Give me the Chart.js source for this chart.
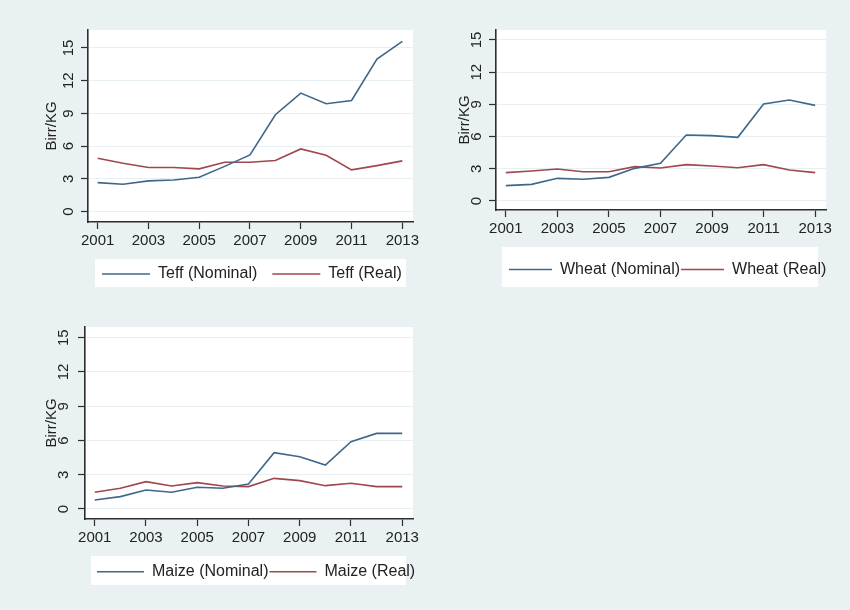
<!DOCTYPE html>
<html>
<head>
<meta charset="utf-8">
<title>Teff, Wheat and Maize prices</title>
<script src="https://cdn.jsdelivr.net/npm/chart.js@4.4.1/dist/chart.umd.min.js"></script>
<style>
  html, body { margin: 0; padding: 0; background: #e9f1f3; }
  body { width: 850px; height: 610px; position: relative; overflow: hidden; }
  canvas { position: absolute; }
</style>
</head>
<body>
<canvas id="teffChart" width="430" height="300" style="left:0;top:0"></canvas>
<canvas id="wheatChart" width="420" height="300" style="left:430px;top:0"></canvas>
<canvas id="maizeChart" width="430" height="310" style="left:0;top:300px"></canvas>
<script>
// Data (Birr per KG)
const years = [2001, 2002, 2003, 2004, 2005, 2006, 2007, 2008, 2009, 2010, 2011, 2012, 2013];
const yearTicks = [2001, 2003, 2005, 2007, 2009, 2011, 2013];
const priceTicks = [0, 3, 6, 9, 12, 15];

const teffNominal = [2.66, 2.51, 2.82, 2.9, 3.15, 4.15, 5.2, 8.88, 10.87, 9.89, 10.19, 13.99, 15.6];
const teffReal = [4.9, 4.44, 4.04, 4.04, 3.92, 4.53, 4.53, 4.68, 5.75, 5.17, 3.83, 4.22, 4.65];

const wheatNominal = [1.43, 1.55, 2.11, 2.02, 2.2, 3.04, 3.51, 6.15, 6.09, 5.93, 9.04, 9.41, 8.91];
const wheatReal = [2.64, 2.8, 2.98, 2.73, 2.73, 3.2, 3.07, 3.39, 3.26, 3.1, 3.39, 2.89, 2.64];

const maizeNominal = [0.79, 1.08, 1.66, 1.46, 1.9, 1.81, 2.19, 4.93, 4.58, 3.85, 5.89, 6.62, 6.62];
const maizeReal = [1.46, 1.81, 2.39, 2.01, 2.31, 2.01, 1.96, 2.68, 2.48, 2.04, 2.25, 1.96, 1.96];

const seriesLabels = {
  teff: ['Teff (Nominal)', 'Teff (Real)'],
  wheat: ['Wheat (Nominal)', 'Wheat (Real)'],
  maize: ['Maize (Nominal)', 'Maize (Real)']
};

const NAVY = '#3f6789';
const MAROON = '#a0474e';
const AXIS = '#2e2e2e';
const GRID = '#e7eff2';

Chart.defaults.font.family = "'Liberation Sans', Arial, sans-serif";
Chart.defaults.color = '#222';

// white plot region + white legend box, and legend row placement
const panelBackground = {
  id: 'panelBackground',
  afterLayout(chart, args, opts) {
    const lg = chart.legend;
    const w = lg.right - lg.left;
    lg.left = opts.legendX - lg.options.labels.padding;
    lg.right = lg.left + w;
  },
  beforeDraw(chart, args, opts) {
    const { ctx, chartArea } = chart;
    const b = opts.legendBox;
    ctx.save();
    ctx.fillStyle = '#fff';
    ctx.fillRect(chartArea.left, chartArea.top, chartArea.right - chartArea.left, chartArea.bottom - chartArea.top);
    ctx.fillRect(b[0], b[1], b[2], b[3]);
    ctx.restore();
  }
};

function toPoints(values) {
  return years.map((yr, i) => ({ x: yr, y: values[i] }));
}

function drawPanel(id, labels, nominal, real, p) {
  new Chart(document.getElementById(id), {
    type: 'line',
    data: {
      datasets: [
        { label: labels[0], data: toPoints(nominal), borderColor: NAVY, backgroundColor: NAVY, borderWidth: 1.6 },
        { label: labels[1], data: toPoints(real), borderColor: MAROON, backgroundColor: MAROON, borderWidth: 1.6 }
      ]
    },
    options: {
      responsive: false,
      animation: false,
      events: [],
      elements: {
        line: { tension: 0, fill: false },
        point: { radius: 0 }
      },
      layout: { padding: p.padding },
      scales: {
        x: {
          type: 'linear',
          min: 2000.62,
          max: 2013.42,
          afterBuildTicks: (axis) => { axis.ticks = yearTicks.map(v => ({ value: v })); },
          afterFit: (axis) => { axis.height = p.xHeight; },
          ticks: {
            autoSkip: false,
            maxRotation: 0,
            padding: 3,
            font: { size: 15 },
            callback: (v) => String(v)
          },
          grid: { drawOnChartArea: false, tickLength: 7, tickColor: AXIS, tickWidth: 1.2 },
          border: { color: AXIS, width: 1.6 }
        },
        y: {
          min: p.yMin,
          max: p.yMax,
          afterBuildTicks: (axis) => { axis.ticks = priceTicks.map(v => ({ value: v })); },
          afterFit: (axis) => { axis.width = p.yWidth; },
          ticks: {
            autoSkip: false,
            minRotation: 90,
            maxRotation: 90,
            crossAlign: 'center',
            padding: p.tickPad,
            font: { size: 15 }
          },
          grid: { color: GRID, lineWidth: 1, tickLength: 7, tickColor: AXIS, tickWidth: 1.2 },
          border: { color: AXIS, width: 1.6 },
          title: {
            display: true,
            text: 'Birr/KG',
            font: { size: 15 },
            padding: { top: p.titlePad, bottom: 0 }
          }
        }
      },
      plugins: {
        tooltip: { enabled: false },
        legend: {
          position: 'bottom',
          align: 'start',
          labels: {
            usePointStyle: true,
            pointStyle: 'line',
            pointStyleWidth: p.sample,
            padding: p.legendPad,
            color: '#222',
            font: { size: 16 }
          }
        },
        panelBackground: { legendX: p.legendX, legendBox: p.legendBox }
      }
    },
    plugins: [panelBackground]
  });
}

drawPanel('teffChart', seriesLabels.teff, teffNominal, teffReal, {
  padding: { top: 30, right: 17, bottom: 8, left: 0 },
  yWidth: 88, xHeight: 29, yMin: -0.95, yMax: 16.65,
  tickPad: 4, titlePad: 43,
  sample: 48, legendPad: 15, legendX: 102, legendBox: [95, 259, 311, 28]
});

drawPanel('wheatChart', seriesLabels.wheat, wheatNominal, wheatReal, {
  padding: { top: 30, right: 24, bottom: 12.5, left: 0 },
  yWidth: 66, xHeight: 50.5, yMin: -0.84, yMax: 15.93,
  tickPad: 4, titlePad: 26,
  sample: 43, legendPad: 1, legendX: 79, legendBox: [72, 247, 316, 40]
});

drawPanel('maizeChart', seriesLabels.maize, maizeNominal, maizeReal, {
  padding: { top: 27, right: 17, bottom: 20.3, left: 0 },
  yWidth: 85, xHeight: 43.7, yMin: -0.88, yMax: 15.94,
  tickPad: 6, titlePad: 43,
  sample: 47, legendPad: 1, legendX: 97, legendBox: [91, 256, 315, 29]
});
</script>
</body>
</html>
